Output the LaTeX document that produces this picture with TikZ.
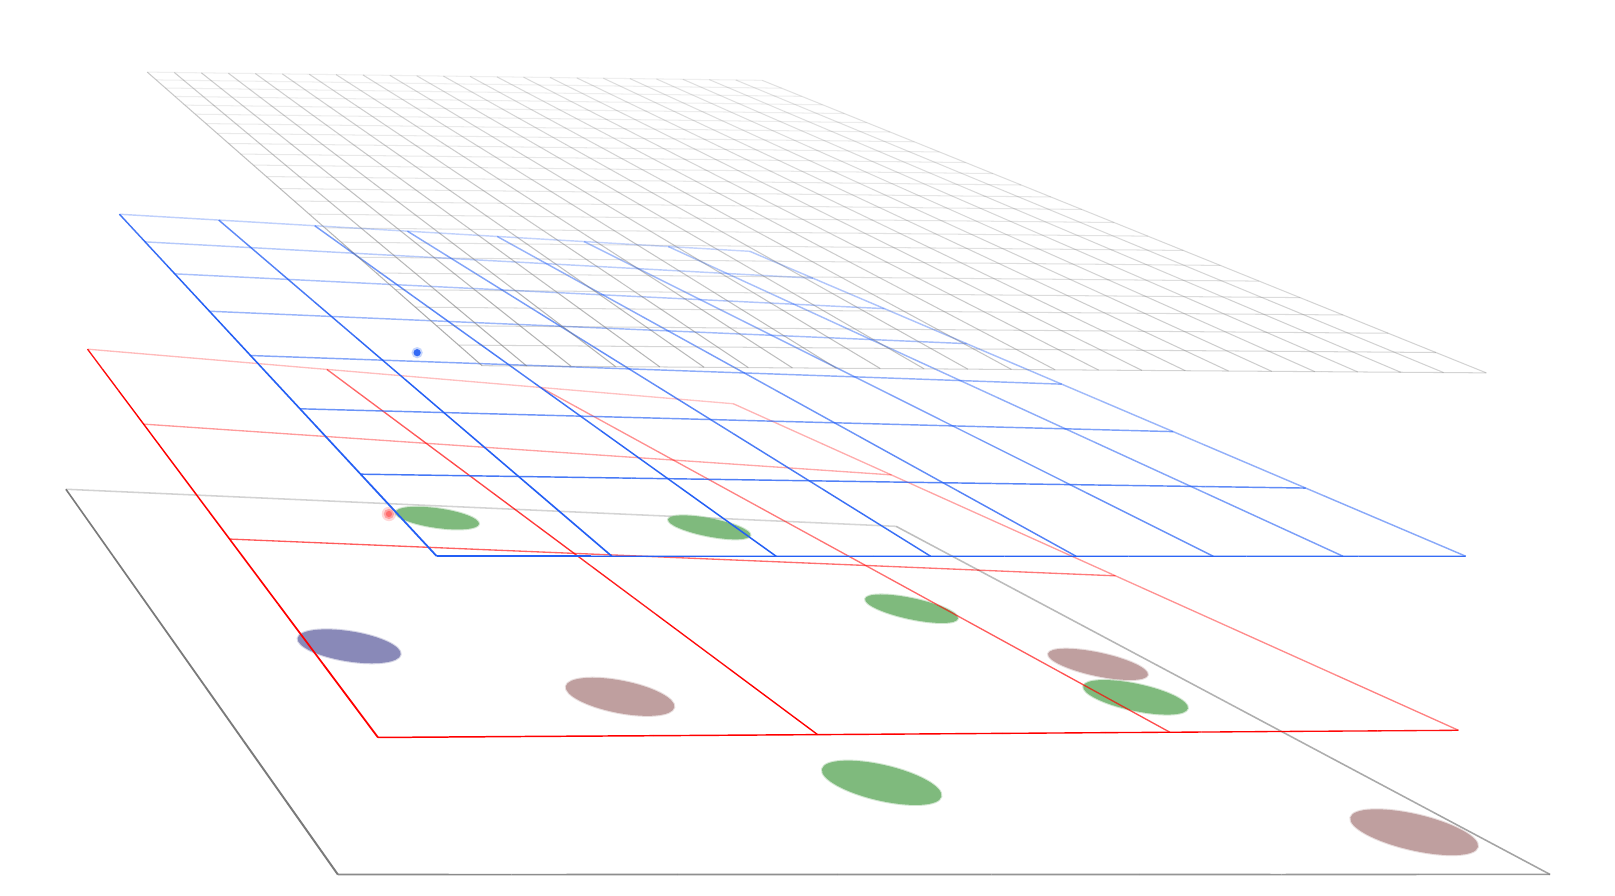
\documentclass[tikz,border=0pt]{standalone}
\usetikzlibrary{calc}
\definecolor{gridblue}{RGB}{35,95,245}
\definecolor{gridred}{RGB}{255,0,0}
\definecolor{gridgray}{RGB}{120,120,120}
\definecolor{planegray}{RGB}{122,122,122}
\definecolor{blobgreen}{RGB}{127,186,125}
\definecolor{blobmauve}{RGB}{191,159,159}
\definecolor{blobpurple}{RGB}{137,137,184}
\tikzset{blob/.style={fill=#1, draw=#1, draw opacity=0.35, line width=1pt}}
% plane: corners far-left, far-right, near-left, near-right (units of 100 px, y down)
\newcommand\PLset[8]{%
  \pgfmathsetmacro\PLax{#1}\pgfmathsetmacro\PLay{#2}%
  \pgfmathsetmacro\PLbx{#3}\pgfmathsetmacro\PLby{#4}%
  \pgfmathsetmacro\PLcx{#5}\pgfmathsetmacro\PLcy{#6}%
  \pgfmathsetmacro\PLdx{#7}\pgfmathsetmacro\PLdy{#8}%
  \pgfmathsetmacro\PLdet{-((\PLdx)-(\PLcx))*((\PLby)-(\PLcy))+((\PLbx)-(\PLcx))*((\PLdy)-(\PLcy))}%
  \pgfmathsetmacro\PLwB{(((\PLax)-(\PLcx))*((\PLby)-(\PLcy))-((\PLbx)-(\PLcx))*((\PLay)-(\PLcy)))/(\PLdet)}%
  \pgfmathsetmacro\PLwR{(-((\PLdx)-(\PLcx))*((\PLay)-(\PLcy))+((\PLax)-(\PLcx))*((\PLdy)-(\PLcy)))/(\PLdet)}%
  \pgfmathsetmacro\PLwL{1+(\PLwB)-(\PLwR)}%
  \pgfmathsetmacro\PLnux{(\PLwR)*(\PLbx)-(\PLax)}\pgfmathsetmacro\PLnuy{(\PLwR)*(\PLby)-(\PLay)}%
  \pgfmathsetmacro\PLnvx{(\PLwL)*(\PLcx)-(\PLax)}\pgfmathsetmacro\PLnvy{(\PLwL)*(\PLcy)-(\PLay)}%
}
\newcommand\PLpt[2]{%
  \pgfmathsetmacro\PLhw{1+(#1)*((\PLwR)-1)+(#2)*((\PLwL)-1)}%
  \pgfmathsetmacro\PLhx{((\PLax)+(#1)*(\PLnux)+(#2)*(\PLnvx))/(\PLhw)}%
  \pgfmathsetmacro\PLhy{((\PLay)+(#1)*(\PLnuy)+(#2)*(\PLnvy))/(\PLhw)}%
}
\newcommand\PLcolw[2]{\PLpt{#1}{#2}%
  \pgfmathsetmacro\PLe{1/(((\PLhw)^3)*veclen(((\PLnvx)-(\PLhx)*((\PLwL)-1))/(\PLhw),((\PLnvy)-(\PLhy)*((\PLwL)-1))/(\PLhw)))}}
\newcommand\PLroww[2]{\PLpt{#1}{#2}%
  \pgfmathsetmacro\PLe{1/(((\PLhw)^3)*veclen(((\PLnux)-(\PLhx)*((\PLwR)-1))/(\PLhw),((\PLnuy)-(\PLhy)*((\PLwR)-1))/(\PLhw)))}}
% grid: #1 nu, #2 nv, #3 segments, #4 colour, #5 k columns, #6 base width, #7 k rows
\newcommand\PLgrid[7]{%
  \foreach \i in {0,...,#1}{\foreach \k in {1,...,#3}{%
    \pgfmathsetmacro\PLu{\i/#1}%
    \pgfmathsetmacro\PLva{(\k-1)/#3}\pgfmathsetmacro\PLvb{\k/#3}\pgfmathsetmacro\PLvm{(\k-0.5)/#3}%
    \PLpt{\PLu}{\PLva}\let\PLxa\PLhx\let\PLya\PLhy
    \PLpt{\PLu}{\PLvb}\let\PLxb\PLhx\let\PLyb\PLhy
    \PLcolw{\PLu}{\PLvm}%
    \pgfmathsetmacro\PLop{min(1,(#5)*(\PLe))}%
    \pgfmathsetmacro\PLlw{(#6)*sqrt(max(1,min(3,(#5)*(\PLe))))}%
    \draw[draw=#4, draw opacity=\PLop, line width=\PLlw pt] (\PLxa,\PLya) -- (\PLxb,\PLyb);
  }}%
  \foreach \j in {0,...,#2}{\foreach \k in {1,...,#3}{%
    \pgfmathsetmacro\PLv{\j/#2}%
    \pgfmathsetmacro\PLua{(\k-1)/#3}\pgfmathsetmacro\PLub{\k/#3}\pgfmathsetmacro\PLum{(\k-0.5)/#3}%
    \PLpt{\PLua}{\PLv}\let\PLxa\PLhx\let\PLya\PLhy
    \PLpt{\PLub}{\PLv}\let\PLxb\PLhx\let\PLyb\PLhy
    \PLroww{\PLum}{\PLv}%
    \pgfmathsetmacro\PLop{min(1,(#7)*(\PLe))}%
    \pgfmathsetmacro\PLlw{(#6)*sqrt(max(1,min(3,(#7)*(\PLe))))}%
    \draw[draw=#4, draw opacity=\PLop, line width=\PLlw pt] (\PLxa,\PLya) -- (\PLxb,\PLyb);
  }}%
}
\begin{document}
\begin{tikzpicture}[x=50pt,y=-50pt]
\useasboundingbox (0,0) rectangle (15.68,8.69);
\fill[white] (0,0) rectangle (15.68,8.69);
% bottom plane
\PLset{0.64}{4.75}{8.70}{5.11}{3.28}{8.49}{15.05}{8.49}
\PLgrid{1}{1}{8}{planegray}{3}{0.75}{3}
% blobs
\fill[blob=blobgreen, shift={(8.56,7.60)}, rotate=-13] (0,0) ellipse [x radius=0.594, y radius=0.173];
\fill[blob=blobmauve, shift={(13.73,8.08)}, rotate=-13] (0,0) ellipse [x radius=0.635, y radius=0.175];
\fill[blob=blobpurple, shift={(3.39,6.275)}, rotate=-9] (0,0) ellipse [x radius=0.506, y radius=0.146];
\fill[blob=blobmauve, shift={(6.02,6.765)}, rotate=-11] (0,0) ellipse [x radius=0.536, y radius=0.157];
\fill[blob=blobgreen, shift={(8.85,5.91)}, rotate=-12] (0,0) ellipse [x radius=0.46, y radius=0.102];
\fill[blob=blobmauve, shift={(10.66,6.45)}, rotate=-12] (0,0) ellipse [x radius=0.495, y radius=0.114];
\fill[blob=blobgreen, shift={(11.025,6.77)}, rotate=-12] (0,0) ellipse [x radius=0.519, y radius=0.131];
\fill[blob=blobgreen, shift={(4.245,5.03)}, rotate=-8] (0,0) ellipse [x radius=0.409, y radius=0.095];
\fill[blob=blobgreen, shift={(6.886,5.12)}, rotate=-11] (0,0) ellipse [x radius=0.407, y radius=0.088];
% red dot (blurred)
\fill[red, opacity=0.15] (3.776,4.99) circle [radius=0.07];
\fill[red, opacity=0.25] (3.776,4.99) circle [radius=0.05];
\fill[red!70, opacity=0.6] (3.776,4.99) circle [radius=0.03];
% red plane
\PLset{0.85}{3.39}{7.12}{3.92}{3.67}{7.16}{14.16}{7.09}
\PLgrid{3}{3}{10}{gridred}{2}{0.65}{2}
% blue plane
\PLset{1.16}{2.08}{7.28}{2.44}{4.24}{5.40}{14.23}{5.40}
\PLgrid{7}{7}{8}{gridblue}{2}{0.7}{2}
% blue dot (blurred)
\fill[gridblue, opacity=0.25] (4.05,3.424) circle [radius=0.055];
\fill[gridblue, opacity=0.9] (4.05,3.424) circle [radius=0.035];
% gray plane
\PLset{1.43}{0.70}{7.40}{0.78}{4.68}{3.55}{14.43}{3.62}
\PLgrid{23}{23}{6}{gridgray}{1}{0.5}{0.7}
\end{tikzpicture}
\end{document}
